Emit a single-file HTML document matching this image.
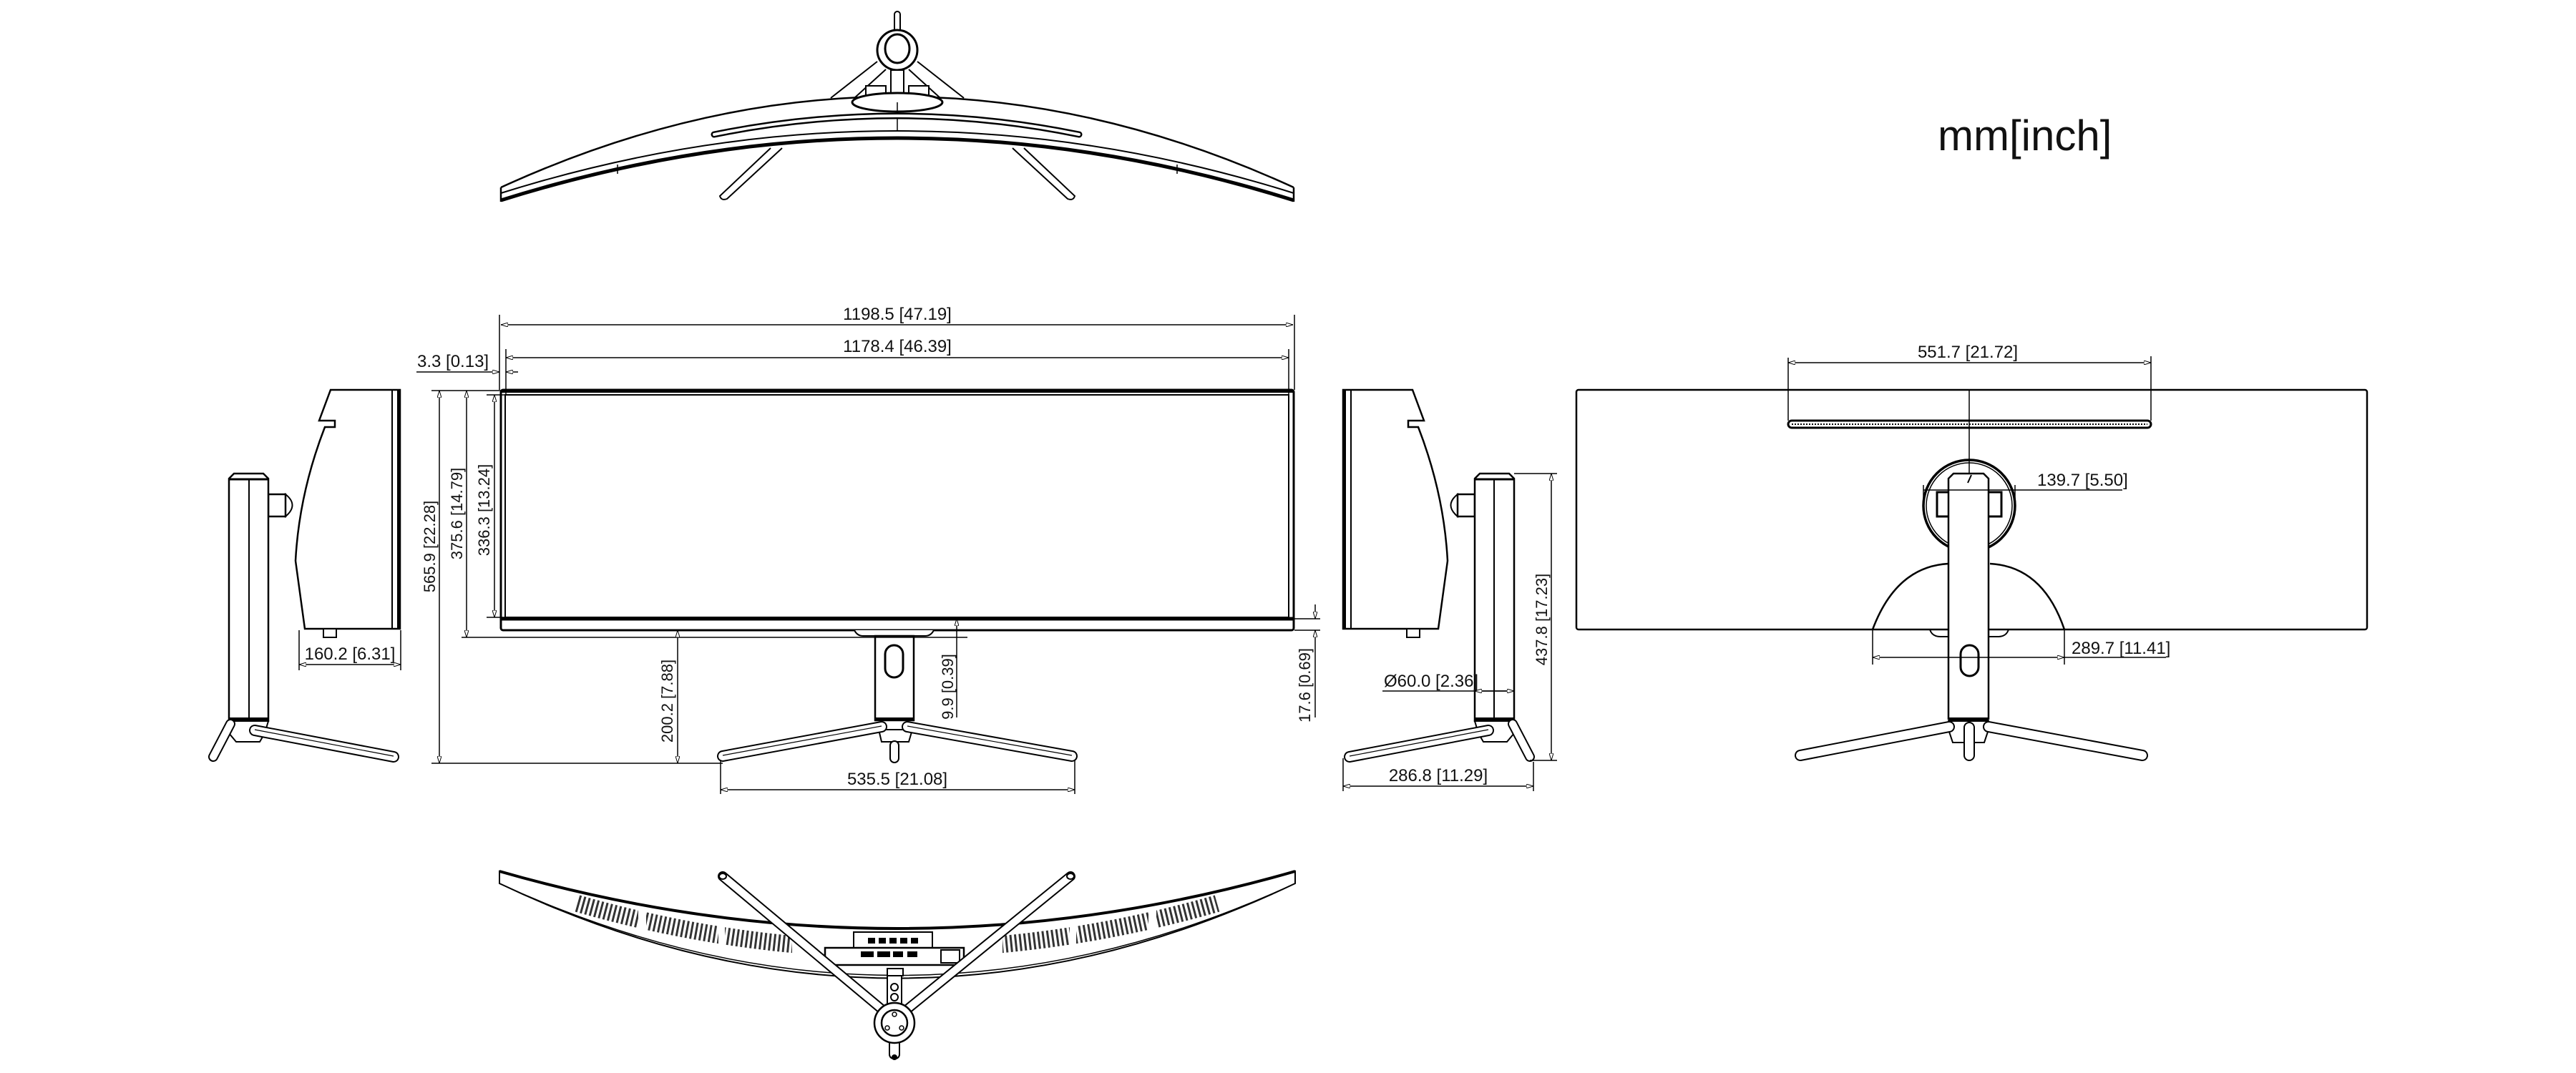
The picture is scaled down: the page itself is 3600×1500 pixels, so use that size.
<!DOCTYPE html>
<html><head><meta charset="utf-8"><style>
html,body{margin:0;padding:0;background:#fff;}
svg{display:block;}
text{font-family:"Liberation Sans Narrow","Liberation Sans",sans-serif;fill:#111;}
</style></head><body>
<svg width="3600" height="1500" viewBox="0 0 3600 1500" xmlns="http://www.w3.org/2000/svg">
<defs>
<marker id="a" viewBox="0 0 10 6" refX="10" refY="3" markerWidth="10" markerHeight="6" orient="auto-start-reverse" markerUnits="userSpaceOnUse"><path d="M0,0 L10,3 L0,6 z" fill="#fff" stroke="#000" stroke-width="1"/></marker>
<mask id="vm" maskUnits="userSpaceOnUse" x="0" y="0" width="3600" height="1500">
  <rect x="0" y="0" width="3600" height="1500" fill="#fff"/>
  <rect x="892" y="1200" width="11" height="200" fill="#000"/>
  <rect x="1004" y="1200" width="9" height="200" fill="#000"/>
  <rect x="1605" y="1200" width="11" height="200" fill="#000"/>
  <rect x="1495" y="1200" width="9" height="200" fill="#000"/>
  <rect x="1107" y="1200" width="294" height="200" fill="#000"/>
</mask>
<g id="sideR">
  <path d="M1877,545 L1974,545 L1990,588 L1968,588 L1968,597 L1982,597 Q2018,690 2023,784 L2010,879 L1877,879 Z" fill="#fff" stroke="#000" stroke-width="2.5"/>
  <line x1="1888" y1="545" x2="1888" y2="879" stroke="#000" stroke-width="2"/>
  <line x1="1879" y1="545" x2="1879" y2="879" stroke="#000" stroke-width="4"/>
  <rect x="1966" y="879" width="18" height="12" fill="#fff" stroke="#000" stroke-width="2"/>
  <path d="M2037,691 Q2018,706 2037,722 Z" fill="#fff" stroke="#000" stroke-width="2"/>
  <rect x="2037" y="691" width="24" height="31" fill="#fff" stroke="#000" stroke-width="2.5"/>
  <path d="M2061,669 L2068,662 L2109,662 L2116,669 L2116,1008 L2061,1008 Z" fill="#fff" stroke="#000" stroke-width="2.5"/>
  <line x1="2061" y1="670" x2="2116" y2="670" stroke="#000" stroke-width="3"/>
  <line x1="2088" y1="670" x2="2088" y2="1004" stroke="#000" stroke-width="2"/>
  <rect x="2061" y="1003" width="55" height="5" fill="#000"/>
  <path d="M2061,1008 L2116,1008 L2116,1025 L2106,1037 L2073,1037 L2066,1025 Z" fill="#fff" stroke="#000" stroke-width="2"/>
  <line x1="2114" y1="1012" x2="2138" y2="1058" stroke="#000" stroke-width="14" stroke-linecap="round"/>
  <line x1="2114" y1="1012" x2="2138" y2="1058" stroke="#fff" stroke-width="10" stroke-linecap="round"/>
  <line x1="2080" y1="1021" x2="1886" y2="1058" stroke="#000" stroke-width="16" stroke-linecap="round"/>
  <line x1="2080" y1="1021" x2="1886" y2="1058" stroke="#fff" stroke-width="12" stroke-linecap="round"/>
  <line x1="2080" y1="1020" x2="1886" y2="1057" stroke="#000" stroke-width="1.2"/>
</g>
</defs>

<text x="2708" y="210" style="font-family:'Liberation Sans',sans-serif" font-size="60">mm[inch]</text>

<!-- TOP VIEW -->
<g fill="none" stroke="#000">
  <line x1="1161" y1="137" x2="1226" y2="86" stroke-width="2"/>
  <line x1="1194" y1="137" x2="1238" y2="97" stroke-width="2"/>
  <line x1="1347" y1="137" x2="1282" y2="86" stroke-width="2"/>
  <line x1="1314" y1="137" x2="1270" y2="97" stroke-width="2"/>
  <rect x="1250" y="16" width="8" height="30" rx="4" fill="#fff" stroke-width="2"/>
  <ellipse cx="1254" cy="70" rx="28" ry="28" fill="#fff" stroke-width="3"/>
  <ellipse cx="1254" cy="68" rx="17" ry="20" stroke-width="3"/>
  <rect x="1245" y="98" width="18" height="40" fill="#fff" stroke-width="2"/>
  <rect x="1210" y="120" width="28" height="22" fill="#fff" stroke-width="2"/>
  <rect x="1270" y="120" width="28" height="22" fill="#fff" stroke-width="2"/>
  <path d="M700,262 Q1254,8 1808,262" stroke-width="2.5"/>
  <ellipse cx="1254" cy="143" rx="63" ry="13" fill="#fff" stroke-width="3"/>
  <line x1="1254" y1="143" x2="1254" y2="184" stroke-width="1.5"/>
  <path d="M998,188 Q1254,136 1508,188" stroke-width="9" stroke-linecap="round"/>
  <path d="M998,188 Q1254,136 1508,188" stroke="#fff" stroke-width="4" stroke-linecap="round"/>
  <path d="M700,270 Q1254,96 1808,270" stroke-width="2"/>
  <path d="M700,280 Q1254,106 1808,280" stroke-width="5"/>
  <line x1="700" y1="262" x2="700" y2="282" stroke-width="2.5"/>
  <line x1="1808" y1="262" x2="1808" y2="282" stroke-width="2.5"/>
  <line x1="863" y1="230" x2="863" y2="243" stroke-width="1.5"/>
  <line x1="1645" y1="230" x2="1645" y2="243" stroke-width="1.5"/>
  <path d="M1077,207 L1006,274 Q1008,281 1016,278 L1093,207" fill="#fff" stroke-width="2"/>
  <path d="M1431,207 L1502,274 Q1500,281 1492,278 L1415,207" fill="#fff" stroke-width="2"/>
</g>

<!-- FRONT VIEW -->
<g fill="none" stroke="#000">
  <rect x="700" y="545" width="1108" height="336" rx="3" stroke-width="3" fill="#fff"/>
  <line x1="700" y1="547" x2="1808" y2="547" stroke-width="4"/>
  <rect x="706" y="552" width="1095" height="311" stroke-width="2"/>
  <line x1="700" y1="865" x2="1808" y2="865" stroke-width="5"/>
  <path d="M1194,881 Q1198,889 1206,889 L1293,889 Q1301,889 1305,881" fill="#fff" stroke-width="2"/>
  <rect x="1223" y="889" width="54" height="118" fill="#fff" stroke-width="2.5"/>
  <rect x="1237" y="902" width="25" height="45" rx="12.5" stroke-width="3"/>
  <rect x="1223" y="1003" width="54" height="5" fill="#000" stroke="none"/>
  <path d="M1228,1020 L1275,1020 L1270,1037 L1232,1037 Z" fill="#fff" stroke-width="2"/>
  <rect x="1244" y="1036" width="12" height="30" rx="6" fill="#fff" stroke-width="2"/>
  <line x1="1232" y1="1016" x2="1010" y2="1057" stroke-width="16" stroke-linecap="round"/>
  <line x1="1232" y1="1016" x2="1010" y2="1057" stroke="#fff" stroke-width="12" stroke-linecap="round"/>
  <line x1="1232" y1="1015" x2="1010" y2="1056" stroke-width="1.2"/>
  <line x1="1268" y1="1016" x2="1498" y2="1057" stroke-width="16" stroke-linecap="round"/>
  <line x1="1268" y1="1016" x2="1498" y2="1057" stroke="#fff" stroke-width="12" stroke-linecap="round"/>
  <line x1="1268" y1="1015" x2="1498" y2="1056" stroke-width="1.2"/>
</g>
<g stroke="#000" stroke-width="1.5" fill="none">
  <line x1="698" y1="440" x2="698" y2="545"/><line x1="1809" y1="440" x2="1809" y2="545"/>
  <line x1="700" y1="454" x2="1807" y2="454" marker-start="url(#a)" marker-end="url(#a)"/>
  <line x1="707" y1="488" x2="707" y2="552"/><line x1="1801" y1="488" x2="1801" y2="552"/>
  <line x1="707" y1="500" x2="1801" y2="500" marker-start="url(#a)" marker-end="url(#a)"/>
  <line x1="582" y1="520" x2="698" y2="520" marker-end="url(#a)"/>
  <line x1="724" y1="520" x2="707" y2="520" marker-end="url(#a)"/>
  <line x1="603" y1="546" x2="700" y2="546"/>
  <line x1="614" y1="546" x2="614" y2="1067" marker-start="url(#a)" marker-end="url(#a)"/>
  <line x1="603" y1="1067" x2="1010" y2="1067"/>
  <line x1="652" y1="546" x2="652" y2="891" marker-start="url(#a)" marker-end="url(#a)"/>
  <line x1="645" y1="891" x2="1352" y2="891"/>
  <line x1="680" y1="552" x2="706" y2="552"/><line x1="680" y1="863" x2="706" y2="863"/>
  <line x1="691" y1="552" x2="691" y2="863" marker-start="url(#a)" marker-end="url(#a)"/>
  <line x1="947" y1="881" x2="947" y2="1067" marker-start="url(#a)" marker-end="url(#a)"/>
  <line x1="1337" y1="865" x2="1337" y2="1003" marker-start="url(#a)"/>
  <line x1="1809" y1="865" x2="1845" y2="865"/><line x1="1809" y1="881" x2="1845" y2="881"/>
  <line x1="1838" y1="845" x2="1838" y2="865" marker-end="url(#a)"/>
  <line x1="1838" y1="1003" x2="1838" y2="881" marker-end="url(#a)"/>
  <line x1="1007" y1="1062" x2="1007" y2="1110"/><line x1="1502" y1="1062" x2="1502" y2="1110"/>
  <line x1="1007" y1="1104" x2="1502" y2="1104" marker-start="url(#a)" marker-end="url(#a)"/>
</g>
<g font-size="24">
  <text x="1254" y="447" text-anchor="middle">1198.5  [47.19]</text>
  <text x="1254" y="492" text-anchor="middle">1178.4 [46.39]</text>
  <text x="583" y="513">3.3 [0.13]</text>
  <text x="1254" y="1097" text-anchor="middle">535.5 [21.08]</text>
  <text transform="translate(608,764) rotate(-90)" text-anchor="middle" style="font-family:'Liberation Sans',sans-serif" font-size="22">565.9 [22.28]</text>
  <text transform="translate(646,718) rotate(-90)" text-anchor="middle" style="font-family:'Liberation Sans',sans-serif" font-size="22">375.6 [14.79]</text>
  <text transform="translate(684,713) rotate(-90)" text-anchor="middle" style="font-family:'Liberation Sans',sans-serif" font-size="22">336.3 [13.24]</text>
  <text transform="translate(940,980) rotate(-90)" text-anchor="middle" style="font-family:'Liberation Sans',sans-serif" font-size="22">200.2 [7.88]</text>
  <text transform="translate(1332,960) rotate(-90)" text-anchor="middle" style="font-family:'Liberation Sans',sans-serif" font-size="22">9.9 [0.39]</text>
  <text transform="translate(1831,958) rotate(-90)" text-anchor="middle" style="font-family:'Liberation Sans',sans-serif" font-size="22">17.6 [0.69]</text>
</g>

<!-- SIDE VIEWS -->
<use href="#sideR"/>
<use href="#sideR" transform="translate(2436,0) scale(-1,1)"/>
<g stroke="#000" stroke-width="1.5" fill="none">
  <line x1="418" y1="881" x2="418" y2="937"/><line x1="560" y1="881" x2="560" y2="937"/>
  <line x1="418" y1="929" x2="560" y2="929" marker-start="url(#a)" marker-end="url(#a)"/>
  <line x1="2116" y1="662" x2="2176" y2="662"/><line x1="2138" y1="1063" x2="2176" y2="1063"/>
  <line x1="2168" y1="662" x2="2168" y2="1063" marker-start="url(#a)" marker-end="url(#a)"/>
  <line x1="1932" y1="966" x2="2116" y2="966"/>
  <line x1="2061" y1="966" x2="2116" y2="966" marker-start="url(#a)" marker-end="url(#a)"/>
  <line x1="1877" y1="1060" x2="1877" y2="1106"/><line x1="2143" y1="1065" x2="2143" y2="1106"/>
  <line x1="1877" y1="1099" x2="2143" y2="1099" marker-start="url(#a)" marker-end="url(#a)"/>
</g>
<g font-size="24">
  <text x="489" y="922" text-anchor="middle">160.2 [6.31]</text>
  <text x="1934" y="960">Ø60.0 [2.36]</text>
  <text x="2010" y="1092" text-anchor="middle">286.8 [11.29]</text>
  <text transform="translate(2162,866) rotate(-90)" text-anchor="middle" style="font-family:'Liberation Sans',sans-serif" font-size="22">437.8 [17.23]</text>
</g>

<!-- BACK VIEW -->
<g fill="none" stroke="#000">
  <rect x="2203" y="545" width="1105" height="335" rx="3" stroke-width="2.5" fill="#fff"/>
  <rect x="2499" y="588" width="507" height="10" rx="5" stroke-width="3"/>
  <line x1="2504" y1="593" x2="3001" y2="593" stroke-width="2" stroke-dasharray="2 2"/>
  <line x1="2752" y1="545" x2="2752" y2="662" stroke-width="1.5"/>
  <path d="M2617,880 Q2650,792 2723,788" stroke-width="2.5"/>
  <path d="M2885,880 Q2855,792 2781,788" stroke-width="2.5"/>
  <circle cx="2752" cy="707" r="64" stroke-width="3.5"/>
  <circle cx="2752" cy="707" r="60" stroke-width="1.5"/>
  <rect x="2707" y="688" width="90" height="34" stroke-width="3"/>
  <path d="M2697,880 Q2700,890 2712,890 L2792,890 Q2804,890 2807,880" stroke-width="2"/>
  <path d="M2723,669 L2730,662 L2772,662 L2779,669 L2779,1005 L2723,1005 Z" fill="#fff" stroke-width="2.5"/>
  <line x1="2755" y1="664" x2="2750" y2="675" stroke-width="2"/>
  <rect x="2740" y="902" width="25" height="43" rx="12.5" stroke-width="3"/>
  <rect x="2723" y="1003" width="56" height="5" fill="#000" stroke="none"/>
  <path d="M2723,1008 L2779,1008 L2779,1020 L2773,1038 L2729,1038 L2723,1020 Z" fill="#fff" stroke-width="2"/>
  <line x1="2724" y1="1016" x2="2516" y2="1056" stroke-width="16" stroke-linecap="round"/>
  <line x1="2724" y1="1016" x2="2516" y2="1056" stroke="#fff" stroke-width="12" stroke-linecap="round"/>
  <line x1="2779" y1="1016" x2="2994" y2="1056" stroke-width="16" stroke-linecap="round"/>
  <line x1="2779" y1="1016" x2="2994" y2="1056" stroke="#fff" stroke-width="12" stroke-linecap="round"/>
  <rect x="2745" y="1010" width="14" height="53" rx="7" fill="#fff" stroke-width="2"/>
</g>
<g stroke="#000" stroke-width="1.5" fill="none">
  <line x1="2499" y1="500" x2="2499" y2="588"/><line x1="3006" y1="498" x2="3006" y2="588"/>
  <line x1="2499" y1="507" x2="3006" y2="507" marker-start="url(#a)" marker-end="url(#a)"/>
  <line x1="2688" y1="678" x2="2688" y2="705"/><line x1="2816" y1="678" x2="2816" y2="705"/>
  <line x1="2688" y1="685" x2="2966" y2="685"/>
  <line x1="2617" y1="880" x2="2617" y2="929"/><line x1="2885" y1="880" x2="2885" y2="929"/>
  <line x1="2617" y1="919" x2="2885" y2="919" marker-start="url(#a)" marker-end="url(#a)"/>
  <line x1="2885" y1="919" x2="3027" y2="919"/>
</g>
<g font-size="24">
  <text x="2750" y="500" text-anchor="middle">551.7 [21.72]</text>
  <text x="2847" y="679">139.7 [5.50]</text>
  <text x="2895" y="914">289.7 [11.41]</text>
</g>

<!-- BOTTOM VIEW -->
<g fill="none" stroke="#000">
  <path d="M698,1218 Q1254,1378 1810,1218 L1810,1235 Q1254,1500 698,1235 Z" fill="#fff" stroke-width="2"/>
  <path d="M698,1218 Q1254,1378 1810,1218" stroke-width="4"/>
  <path d="M698,1235 Q1254,1492 1810,1235" stroke-width="1.5"/>
  <path d="M807,1263 Q1254,1391 1701,1263" stroke="#333" stroke-width="24" stroke-dasharray="3 3.5" mask="url(#vm)"/>
  <rect x="1193" y="1303" width="110" height="22" fill="#fff" stroke-width="2"/>
  <rect x="1153" y="1325" width="194" height="24" fill="#fff" stroke-width="2.5"/>
  <g fill="#000" stroke="none">
    <rect x="1213" y="1311" width="10" height="8"/><rect x="1228" y="1311" width="10" height="8"/><rect x="1243" y="1311" width="10" height="8"/><rect x="1258" y="1311" width="10" height="8"/><rect x="1273" y="1311" width="10" height="8"/>
    <rect x="1203" y="1330" width="18" height="8"/><rect x="1226" y="1330" width="18" height="8"/><rect x="1248" y="1330" width="14" height="8"/><rect x="1268" y="1330" width="14" height="8"/>
  </g>
  <rect x="1315" y="1328" width="26" height="18" stroke-width="2"/>
  <rect x="1240" y="1354" width="22" height="10" fill="#fff" stroke-width="2"/>
  <rect x="1240" y="1364" width="20" height="40" fill="#fff" stroke-width="2"/>
  <circle cx="1250" cy="1380" r="5" stroke-width="2"/><circle cx="1250" cy="1394" r="5" stroke-width="2"/>
  <line x1="1010" y1="1225" x2="1236" y2="1414" stroke-width="14" stroke-linecap="round"/>
  <line x1="1010" y1="1225" x2="1236" y2="1414" stroke="#fff" stroke-width="10" stroke-linecap="round"/>
  <line x1="1496" y1="1225" x2="1264" y2="1414" stroke-width="14" stroke-linecap="round"/>
  <line x1="1496" y1="1225" x2="1264" y2="1414" stroke="#fff" stroke-width="10" stroke-linecap="round"/>
  <ellipse cx="1010" cy="1225" rx="5" ry="4" stroke-width="2"/>
  <ellipse cx="1496" cy="1225" rx="5" ry="4" stroke-width="2"/>
  <rect x="1243" y="1450" width="14" height="30" rx="6" fill="#fff" stroke-width="2"/>
  <circle cx="1250" cy="1478" r="4" fill="#000" stroke="none"/>
  <circle cx="1250" cy="1430" r="28" fill="#fff" stroke-width="2.5"/>
  <circle cx="1250" cy="1430" r="18" stroke-width="2.5"/>
  <circle cx="1250" cy="1418" r="3" stroke-width="1.5"/><circle cx="1240" cy="1437" r="3" stroke-width="1.5"/><circle cx="1260" cy="1437" r="3" stroke-width="1.5"/>
</g>
</svg>
</body></html>
